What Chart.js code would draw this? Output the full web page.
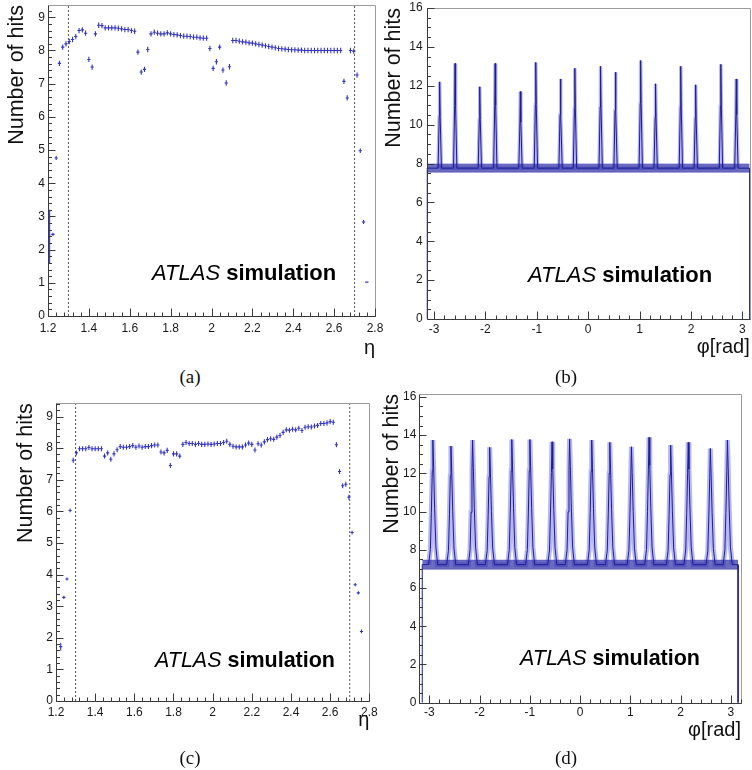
<!DOCTYPE html>
<html><head><meta charset="utf-8">
<title>ATLAS simulation - Number of hits</title>
<script src="https://cdn.jsdelivr.net/npm/chart.js@4.4.1/dist/chart.umd.min.js"></script>
<style>
html,body{margin:0;padding:0;background:#fff;}
#fig{position:relative;width:752px;height:770px;overflow:hidden;background:#fff;}
canvas{position:absolute;display:block;}
.cap{position:absolute;font-family:"Liberation Serif","Times New Roman",serif;font-size:19px;line-height:20px;color:#111;transform:translate(-50%,-50%);white-space:nowrap;}
</style></head><body>
<div id="fig">
<canvas id="cA" width="392" height="362" style="left:0;top:0"></canvas>
<canvas id="cB" width="376" height="362" style="left:376px;top:0"></canvas>
<canvas id="cC" width="392" height="360" style="left:0;top:390px"></canvas>
<canvas id="cD" width="376" height="360" style="left:376px;top:390px"></canvas>
<div class="cap" style="left:190px;top:377px">(a)</div>
<div class="cap" style="left:566px;top:377px">(b)</div>
<div class="cap" style="left:190px;top:758px">(c)</div>
<div class="cap" style="left:566px;top:758px">(d)</div>
</div>
<script>
// ---------------- DATA ----------------
// eta binning (bins of 0.016 from 1.2 to 2.8)
const etaStart = 1.2;
const etaBin = 0.016;
const detectorEdges = [1.3, 2.7];

// (a) mean number of hits per eta bin
const hitsA = [
2.40, 2.46, 4.76, 7.61, 8.10, 8.20, 8.27, 8.33, 8.42, 8.60,
8.62, 8.52, 7.73, 7.50, 8.50, 8.76, 8.75, 8.68, 8.68, 8.68,
8.68, 8.67, 8.65, 8.63, 8.63, 8.60, 8.58, 7.95, 7.35, 7.43,
8.03, 8.50, 8.55, 8.52, 8.50, 8.50, 8.53, 8.50, 8.48, 8.47,
8.45, 8.43, 8.43, 8.42, 8.40, 8.40, 8.38, 8.37, 8.37, 8.06,
7.46, 7.66, 8.10, 7.41, 7.02, 7.51, 8.30, 8.30, 8.28, 8.26,
8.25, 8.23, 8.22, 8.20, 8.18, 8.16, 8.14, 8.12, 8.10, 8.08,
8.06, 8.05, 8.04, 8.03, 8.02, 8.02, 8.01, 8.01, 8.00, 8.00,
8.00, 8.00, 8.00, 8.00, 8.00, 8.00, 8.00, 8.00, 8.00, 8.00,
7.07, 6.57, 8.00, 7.98, 7.26, 4.98, 2.83, 1.02, null, null];
const errA = [
0.80, 0.05, 0.06, 0.08, 0.08, 0.08, 0.08, 0.08, 0.08, 0.08,
0.08, 0.08, 0.08, 0.08, 0.08, 0.08, 0.08, 0.08, 0.08, 0.08,
0.08, 0.08, 0.08, 0.08, 0.08, 0.08, 0.08, 0.08, 0.08, 0.08,
0.08, 0.08, 0.08, 0.08, 0.08, 0.08, 0.08, 0.08, 0.08, 0.08,
0.08, 0.08, 0.08, 0.08, 0.08, 0.08, 0.08, 0.08, 0.08, 0.08,
0.08, 0.08, 0.08, 0.08, 0.08, 0.08, 0.08, 0.08, 0.08, 0.08,
0.08, 0.08, 0.08, 0.08, 0.08, 0.08, 0.08, 0.08, 0.08, 0.08,
0.08, 0.08, 0.08, 0.08, 0.08, 0.08, 0.08, 0.08, 0.08, 0.08,
0.08, 0.08, 0.08, 0.08, 0.08, 0.08, 0.08, 0.08, 0.08, 0.08,
0.08, 0.08, 0.08, 0.08, 0.08, 0.07, 0.06, 0.02, 0.00, 0.00];

// (c) mean number of hits per eta bin
const hitsC = [
null, 1.72, 3.28, 3.86, 6.03, 7.62, 7.85, 7.98, 7.98, 7.98,
8.02, 7.98, 7.98, 7.98, 7.98, 7.75, 7.85, 7.65, 7.82, 7.95,
8.05, 8.03, 8.03, 8.05, 8.08, 8.03, 8.07, 8.03, 8.05, 8.05,
8.08, 8.10, 8.10, 7.88, 7.85, 7.93, 7.45, 7.82, 7.82, 7.75,
8.12, 8.18, 8.15, 8.15, 8.12, 8.15, 8.12, 8.12, 8.13, 8.12,
8.13, 8.15, 8.15, 8.18, 8.22, 8.12, 8.06, 8.04, 8.04, 8.04,
8.10, 8.16, 8.12, 7.94, 8.14, 8.10, 8.20, 8.27, 8.30, 8.28,
8.35, 8.40, 8.50, 8.58, 8.57, 8.60, 8.58, 8.63, 8.56, 8.66,
8.68, 8.67, 8.70, 8.72, 8.78, 8.78, 8.80, 8.84, 8.82, 8.11,
7.26, 6.81, 6.86, 6.45, 5.33, 3.68, 3.42, 2.20, null, null];
const errC = [
0.00, 0.12, 0.05, 0.05, 0.06, 0.08, 0.08, 0.08, 0.08, 0.08,
0.08, 0.08, 0.08, 0.08, 0.08, 0.08, 0.08, 0.08, 0.08, 0.08,
0.08, 0.08, 0.08, 0.08, 0.08, 0.08, 0.08, 0.08, 0.08, 0.08,
0.08, 0.08, 0.08, 0.08, 0.08, 0.08, 0.08, 0.08, 0.08, 0.08,
0.08, 0.08, 0.08, 0.08, 0.08, 0.08, 0.08, 0.08, 0.08, 0.08,
0.08, 0.08, 0.08, 0.08, 0.08, 0.08, 0.08, 0.08, 0.08, 0.08,
0.08, 0.08, 0.08, 0.08, 0.08, 0.08, 0.08, 0.08, 0.08, 0.08,
0.08, 0.08, 0.08, 0.08, 0.08, 0.08, 0.08, 0.08, 0.08, 0.08,
0.08, 0.08, 0.08, 0.08, 0.08, 0.08, 0.08, 0.08, 0.08, 0.08,
0.08, 0.08, 0.08, 0.08, 0.06, 0.05, 0.05, 0.06, 0.00, 0.00];

// (b) phi distribution: plateau [low, mid, high] and spike positions / heights
const plateauB = [7.55, 7.76, 7.98];
const peakPhiB  = [-2.89, -2.59, -2.11, -1.81, -1.32, -1.02, -0.54, -0.26, 0.24, 0.53, 1.02, 1.31, 1.80, 2.09, 2.58, 2.88];
const peakHitsB = [12.20, 13.15, 11.95, 13.15, 11.70, 13.20, 12.35, 12.90, 13.00, 12.70, 13.30, 12.10, 13.00, 12.05, 13.10, 12.35];
const spikeDxB   = [-0.030, -0.008, 0, 0.010, 0.035];
const spikeFracB = [0, 0.60, 1, 0.60, 0];

// (d) phi distribution
const plateauD = [6.98, 7.22, 7.46];
const peakPhiD  = [-2.93, -2.57, -2.14, -1.80, -1.36, -1.00, -0.56, -0.21, 0.23, 0.59, 1.02, 1.37, 1.80, 2.15, 2.59, 2.93];
const peakHitsD = [13.74, 13.43, 13.74, 13.36, 13.77, 13.77, 13.65, 13.80, 13.74, 13.62, 13.39, 13.88, 13.48, 13.62, 13.30, 13.74];
const spikeDxD   = [-0.085, -0.050, -0.030, -0.012, 0, 0.015, 0.035, 0.060, 0.095];
const spikeFracD = [0, 0.12, 0.42, 0.75, 1, 0.78, 0.45, 0.14, 0];

// ---------------- HELPERS ----------------
const FONT = '"Liberation Sans", Arial, Helvetica, sans-serif';
const TXT = '#1a1a1a';
const numLabel = v => String(Math.round(v * 100) / 100);

function etaErrorBars(vals, errs) {
  const pts = [];
  vals.forEach((v, k) => {
    if (v === null) return;
    const x = etaStart + etaBin * (k + 0.5);
    const e = errs[k];
    pts.push({x: x, y: v - e}, {x: x, y: v + e}, {x: x, y: null});
    pts.push({x: x - etaBin / 2, y: v}, {x: x + etaBin / 2, y: v}, {x: x, y: null});
  });
  return pts;
}
function edgeLines(ymax) {
  return detectorEdges.map(b => ({
    data: [{x: b, y: 0}, {x: b, y: ymax}],
    showLine: true, borderColor: '#555', borderWidth: 1, borderDash: [2, 2],
    pointRadius: 0, order: 1
  }));
}
function phiProfile(peaks, heights, level, dx, frac) {
  const pts = [{x: -Math.PI, y: 0}, {x: -Math.PI, y: level}];
  peaks.forEach((p, i) => {
    dx.forEach((d, j) => pts.push({x: p + d, y: level + frac[j] * (heights[i] - level)}));
  });
  pts.push({x: Math.PI, y: level}, {x: Math.PI, y: 0});
  return pts;
}

const rootFrame = {
  id: 'rootFrame',
  afterDraw(chart, args, o) {
    const {ctx, chartArea: a, scales} = chart;
    const xs = scales.x, ys = scales.y;
    ctx.save();
    ctx.lineWidth = 1;
    const L = Math.round(a.left) + 0.5, B = Math.round(a.bottom) + 0.5;
    const T = Math.round(a.top) + 0.5, R = Math.round(a.right) + 0.5;
    ctx.strokeStyle = '#9c9c9c';
    ctx.beginPath(); ctx.moveTo(L, T); ctx.lineTo(R, T); ctx.lineTo(R, B); ctx.stroke();
    ctx.strokeStyle = '#3a3a3a';
    ctx.beginPath(); ctx.moveTo(L, T); ctx.lineTo(L, B); ctx.lineTo(R, B);
    const tk = (scale, step, len, horiz) => {
      const n0 = Math.ceil(scale.min / step - 1e-6), n1 = Math.floor(scale.max / step + 1e-6);
      for (let n = n0; n <= n1; n++) {
        const p = Math.round(scale.getPixelForValue(n * step)) + 0.5;
        if (horiz) { ctx.moveTo(p, B); ctx.lineTo(p, B - len); }
        else { ctx.moveTo(L, p); ctx.lineTo(L + len, p); }
      }
    };
    tk(xs, o.xMinor, 4, true); tk(xs, o.xMajor, 8, true);
    tk(ys, o.yMinor, 3.5, false); tk(ys, o.yMajor, 7, false);
    ctx.stroke();
    // ATLAS simulation label
    ctx.fillStyle = '#000';
    ctx.textBaseline = 'alphabetic'; ctx.textAlign = 'left';
    ctx.font = 'italic ' + o.atlas.size + 'px ' + FONT;
    ctx.fillText('ATLAS', o.atlas.x, o.atlas.y);
    const w = ctx.measureText('ATLAS ').width;
    ctx.font = 'bold ' + o.atlas.size + 'px ' + FONT;
    ctx.fillText('simulation', o.atlas.x + w, o.atlas.y);
    ctx.restore();
  }
};

function makeOptions(g) {
  return {
    responsive: false, animation: false, events: [],
    layout: {padding: {left: 0, top: g.padT, right: g.padR, bottom: 0}},
    plugins: {legend: {display: false}, tooltip: {enabled: false}, rootFrame: g.frame},
    scales: {
      x: {type: 'linear', min: g.xmin, max: g.xmax,
        grid: {display: false, drawTicks: false}, border: {display: false},
        ticks: {stepSize: g.xstep, autoSkip: false, maxRotation: 0, minRotation: 0, includeBounds: false,
          padding: g.xTickPad, color: TXT, font: {family: FONT, size: 12}, callback: numLabel},
        title: {display: true, text: g.xTitle, align: 'end', color: '#111',
          font: {family: FONT, size: 20}, padding: {top: 0, bottom: g.xTitlePad}},
        afterFit: s => { s.height = g.xH; s.paddingLeft = 0; s.paddingRight = 0; }
      },
      y: {type: 'linear', min: 0, max: g.ymax,
        grid: {display: false, drawTicks: false}, border: {display: false},
        ticks: {stepSize: g.ystep, autoSkip: false, includeBounds: false,
          padding: g.yTickPad, color: TXT, font: {family: FONT, size: 12}, callback: numLabel},
        title: {display: true, text: 'Number of hits', align: 'end', color: '#111',
          font: {family: FONT, size: 21.5}, padding: {top: g.yTitlePad, bottom: 0}},
        afterFit: s => { s.width = g.yW; s.paddingTop = 0; s.paddingBottom = 0; }
      }
    }
  };
}

function etaChart(id, vals, errs, g) {
  const ds = [{
    data: etaErrorBars(vals, errs), showLine: true, spanGaps: false,
    borderColor: '#3434c4', borderWidth: 1.1, pointRadius: 0, order: 0
  }].concat(edgeLines(g.ymax));
  new Chart(document.getElementById(id), {
    type: 'scatter', data: {datasets: ds}, options: makeOptions(g), plugins: [rootFrame]
  });
}

function phiChart(id, plateau, peaks, heights, dx, frac, glowW, g) {
  const prof = phiProfile(peaks, heights, plateau[1], dx, frac);
  const glow = prof.slice(2, prof.length - 2);
  const ds = [
    {data: prof, showLine: true, borderColor: '#1e1e96', borderWidth: 1, pointRadius: 0, order: 0},
    {data: [{x: -Math.PI, y: plateau[2]}, {x: Math.PI, y: plateau[2]}], showLine: true,
      borderColor: 'rgba(80,80,200,0.5)', borderWidth: 1, pointRadius: 0,
      fill: 2, backgroundColor: 'rgba(44,44,165,0.7)', order: 1},
    {data: [{x: -Math.PI, y: plateau[0]}, {x: Math.PI, y: plateau[0]}], showLine: true,
      borderColor: 'rgba(80,80,200,0.5)', borderWidth: 1, pointRadius: 0, order: 2},
    {data: glow, showLine: true, borderColor: 'rgba(112,112,228,0.5)', borderWidth: glowW, pointRadius: 0, order: 3}
  ];
  new Chart(document.getElementById(id), {
    type: 'scatter', data: {datasets: ds}, options: makeOptions(g), plugins: [rootFrame]
  });
}

// ---------------- CHARTS ----------------
etaChart('cA', hitsA, errA, {
  padT: 5, padR: 17, xH: 46, yW: 48, xmin: 1.2, xmax: 2.8, xstep: 0.2, ymax: 9.37, ystep: 1,
  xTickPad: 5.5, yTickPad: 3, xTitle: 'η', xTitlePad: 2, yTitlePad: 4.6,
  frame: {xMajor: 0.2, xMinor: 0.04, yMajor: 1, yMinor: 0.2, atlas: {x: 152, y: 280, size: 22}}
});
phiChart('cB', plateauB, peakPhiB, peakHitsB, spikeDxB, spikeFracB, 3.5, {
  padT: 8, padR: 2.3, xH: 43, yW: 50.7, xmin: -Math.PI, xmax: Math.PI, xstep: 1, ymax: 16, ystep: 2,
  xTickPad: 3, yTickPad: 4, xTitle: 'φ[rad]', xTitlePad: 3, yTitlePad: 5.1,
  frame: {xMajor: 1, xMinor: 0.2, yMajor: 2, yMinor: 0.5, atlas: {x: 152, y: 282, size: 22}}
});
etaChart('cC', hitsC, errC, {
  padT: 13.3, padR: 22.7, xH: 49, yW: 56, xmin: 1.2, xmax: 2.8, xstep: 0.2, ymax: 9.42, ystep: 1,
  xTickPad: 4.5, yTickPad: 3, xTitle: 'η', xTitlePad: 18, yTitlePad: 12.9,
  frame: {xMajor: 0.2, xMinor: 0.04, yMajor: 1, yMinor: 0.2, atlas: {x: 155, y: 277, size: 21.5}}
});
phiChart('cD', plateauD, peakPhiD, peakHitsD, spikeDxD, spikeFracD, 5, {
  padT: 4, padR: 11, xH: 47.3, yW: 43.3, xmin: -3.2, xmax: 3.2, xstep: 1, ymax: 16.15, ystep: 2,
  xTickPad: 3, yTickPad: 3, xTitle: 'φ[rad]', xTitlePad: 8, yTitlePad: 3.1,
  frame: {xMajor: 1, xMinor: 0.2, yMajor: 2, yMinor: 0.5, atlas: {x: 144, y: 275, size: 21.5}}
});
</script>
</body></html>
